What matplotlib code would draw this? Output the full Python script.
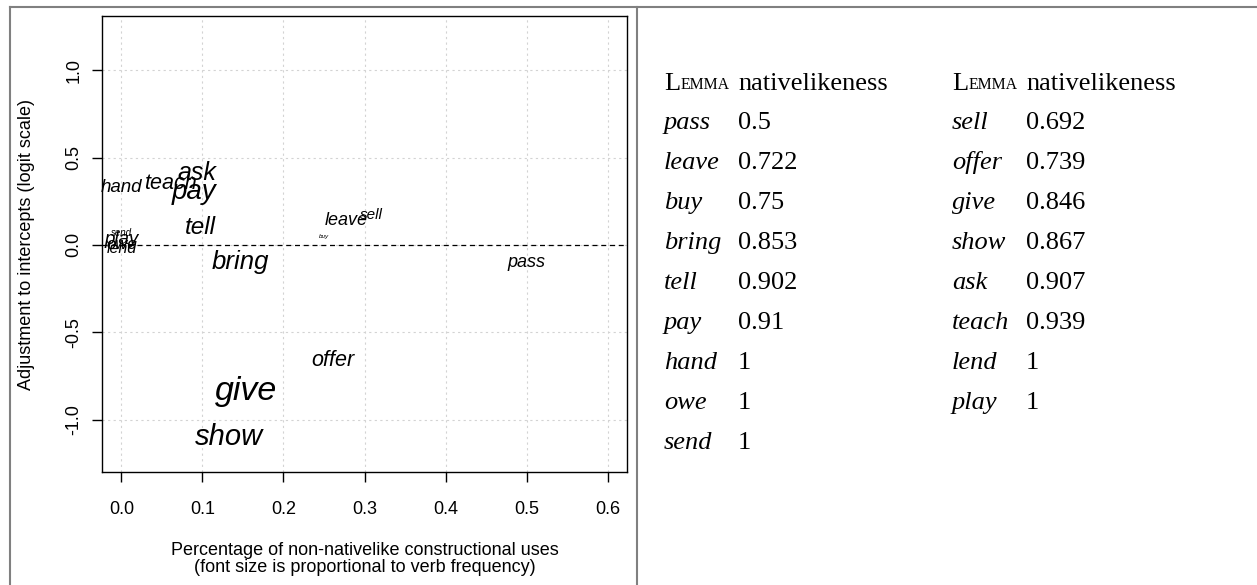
import matplotlib
matplotlib.use("Agg")
import matplotlib.pyplot as plt
from matplotlib.lines import Line2D

# lemmas in table order (left column first, then right column)
lemmas = ["pass", "leave", "buy", "bring", "tell", "pay", "hand", "owe", "send",
          "sell", "offer", "give", "show", "ask", "teach", "lend", "play"]
nativelikeness = [0.5, 0.722, 0.75, 0.853, 0.902, 0.91, 1, 1, 1,
                  0.692, 0.739, 0.846, 0.867, 0.907, 0.939, 1, 1]
# adjustment to intercepts (logit scale)
adjustment = [-0.10, 0.14, 0.05, -0.10, 0.10, 0.30, 0.33, 0.0, 0.07,
              0.17, -0.66, -0.84, -1.10, 0.41, 0.35, -0.02, 0.03]
# label size, proportional to verb frequency (pt)
freq_size = [13, 13, 4.5, 18.5, 17.5, 20, 13.5, 12, 7,
             11, 15.5, 24.5, 21, 18, 15.5, 11.5, 13.5]

x_ticks = [0.0, 0.1, 0.2, 0.3, 0.4, 0.5, 0.6]
y_ticks = [-1.0, -0.5, 0.0, 0.5, 1.0]

W, H = 1257, 585
fig = plt.figure(figsize=(W / 100, H / 100), dpi=100)
plt.rcParams["font.family"] = ["Liberation Sans", "DejaVu Sans"]

ax = fig.add_axes([102 / W, 1 - 472 / H, (627 - 102) / W, (472 - 16) / H])
ax.set_xlim(-0.024, 0.624)
ax.set_ylim(-1.3, 1.31)

for t in x_ticks:
    ax.axvline(t, color="#d3d3d3", ls=(0, (2, 3)), lw=0.8, zorder=0)
for t in y_ticks:
    ax.axhline(t, color="#d3d3d3", ls=(0, (2, 3)), lw=0.8, zorder=0)
ax.axhline(0, color="black", ls=(0, (4, 3)), lw=0.9, zorder=1)

for lem, nat, adj, sz in zip(lemmas, nativelikeness, adjustment, freq_size):
    ax.text(1 - nat, adj, lem, fontsize=sz, style="italic",
            ha="center", va="center", zorder=2)

ax.set_xticks(x_ticks)
ax.set_xticklabels([f"{t:.1f}" for t in x_ticks])
ax.set_yticks(y_ticks)
ax.set_yticklabels([f"{t:.1f}" for t in y_ticks], rotation=90, va="center")
ax.tick_params(direction="out", length=7.2, width=1, labelsize=13)
ax.tick_params(axis="x", pad=14)
ax.tick_params(axis="y", pad=7)
for s in ax.spines.values():
    s.set_linewidth(1.0)

fig.text(365 / W, 1 - 559 / H,
         "Percentage of non-nativelike constructional uses\n(font size is proportional to verb frequency)",
         ha="center", va="center", fontsize=13, linespacing=1.05)
fig.text(27 / W, 1 - 244 / H, "Adjustment to intercepts (logit scale)",
         ha="center", va="center", rotation=90, fontsize=13)

# table on the right
serif = ["Liberation Serif", "DejaVu Serif"]
col_x = [664, 952]
val_dx = 74
header_y = 90
row_y0 = 129
row_step = 40
tsize = 19
n_left = 9
for c, (start, stop) in enumerate([(0, n_left), (n_left, len(lemmas))]):
    cx = col_x[c]
    # small-caps "Lemma"
    t = fig.text(cx / W, 1 - header_y / H, "L", family=serif, fontsize=tsize,
                 va="baseline", ha="left")
    ax.annotate("EMMA", xy=(1, 0), xycoords=t, xytext=(0, 1.6),
                textcoords="offset points", va="bottom", ha="left",
                family=serif, fontsize=tsize * 0.6, annotation_clip=False)
    fig.text((cx + val_dx) / W, 1 - header_y / H, "nativelikeness",
             family=serif, fontsize=tsize, va="baseline", ha="left")
    for i, k in enumerate(range(start, stop)):
        y = row_y0 + i * row_step
        fig.text(cx / W, 1 - y / H, lemmas[k], family=serif, style="italic",
                 fontsize=tsize, va="baseline", ha="left")
        fig.text((cx + val_dx) / W, 1 - y / H, f"{nativelikeness[k]:g}",
                 family=serif, fontsize=tsize, va="baseline", ha="left")

# outer frame lines
frame = dict(color="#808080", lw=1.5, transform=fig.transFigure)
fig.add_artist(Line2D([10 / W, 1], [1 - 7 / H, 1 - 7 / H], **frame))
fig.add_artist(Line2D([10 / W, 10 / W], [0, 1 - 7 / H], **frame))
fig.add_artist(Line2D([637 / W, 637 / W], [0, 1 - 7 / H], **frame))

fig.savefig("out.png", dpi=100)
